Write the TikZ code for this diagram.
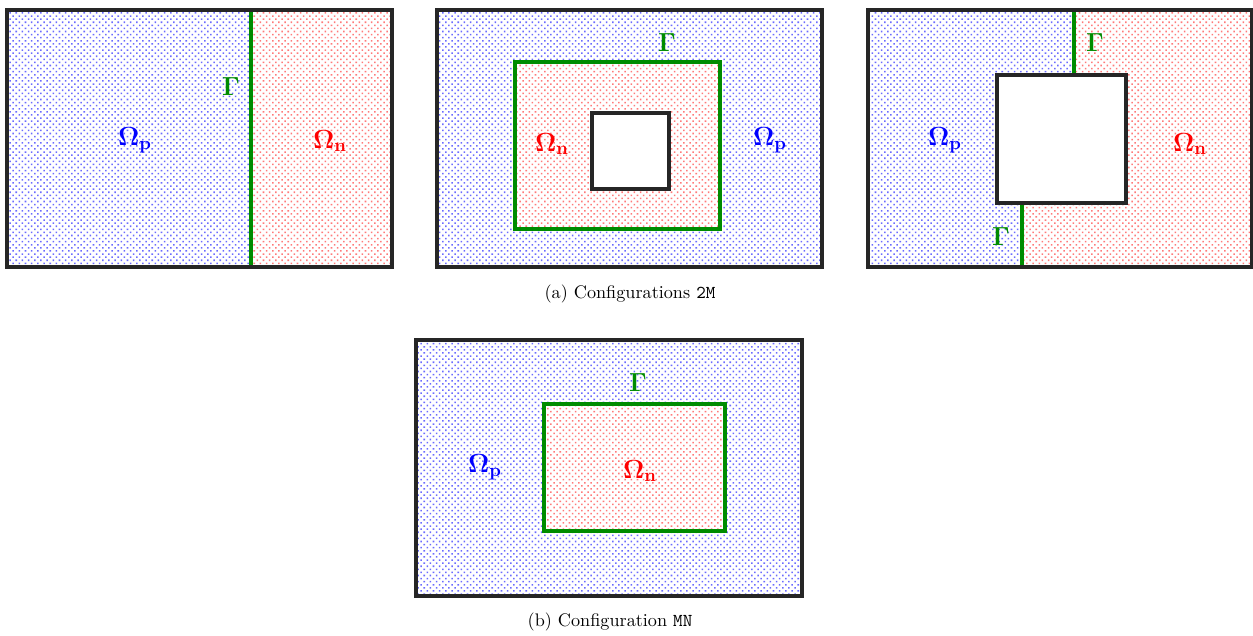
\documentclass[tikz,border=0pt]{standalone}
\usepackage{amsmath}
\usetikzlibrary{patterns}
% small dotted tile for the subdomains
\pgfdeclarepatternformonly{fine dots}{\pgfqpoint{-0.1pt}{-0.1pt}}{\pgfqpoint{3.5pt}{3.5pt}}{\pgfqpoint{3.4pt}{3.4pt}}{
  \pgfpathrectangle{\pgfqpoint{0pt}{0pt}}{\pgfqpoint{0.85pt}{0.85pt}}
  \pgfpathrectangle{\pgfqpoint{1.7pt}{1.7pt}}{\pgfqpoint{0.85pt}{0.85pt}}
  \pgfusepath{fill}}

\begin{document}
\begin{tikzpicture}[x=0.55pt,y=-0.55pt,
  wall/.style={draw=black!85,line width=1.8pt},
  iface/.style={draw=green!55!black,line width=1.8pt},
  pdom/.style={pattern=fine dots,pattern color=blue!58},
  ndom/.style={pattern=fine dots,pattern color=red!52},
  plab/.style={text=blue,font=\Large},
  nlab/.style={text=red,font=\Large},
  glab/.style={text=green!55!black,font=\Large}]
  \useasboundingbox (0,0) rectangle (1253,635);

  % (a) left: straight interface
  \fill[pdom] (7,10) rectangle (251,267);
  \fill[ndom] (251,10) rectangle (392,267);
  \coordinate (g1t) at (251,10);
  \coordinate (g1b) at (251,267);
  \draw[iface] (g1t) -- (g1b);
  \draw[wall] (7,10) rectangle (392,267);
  \node[glab] (gam1) at (231,87) {$\mathbf{\Gamma}$};
  \node[plab] (omp1) at (135,140) {$\mathbf{\Omega_p}$};
  \node[nlab] (omn1) at (330,141) {$\mathbf{\Omega_n}$};

  % (a) middle: ring around a hole
  \fill[pdom] (437,10) rectangle (822,267);
  \fill[white] (515,62) rectangle (720,229);
  \fill[ndom] (515,62) rectangle (720,229);
  \fill[white] (592,113) rectangle (669,189);
  \draw[iface] (515,62) rectangle (720,229);
  \draw[wall] (592,113) rectangle (669,189);
  \draw[wall] (437,10) rectangle (822,267);
  \node[glab] (gam2) at (667,43) {$\mathbf{\Gamma}$};
  \node[nlab] (omn2) at (552,144) {$\mathbf{\Omega_n}$};
  \node[plab] (omp2) at (770,140) {$\mathbf{\Omega_p}$};

  % (a) right: interface split by the hole
  \fill[ndom] (868,10) rectangle (1252,267);
  \fill[white] (868,10) -- (1074,10) -- (1074,75) -- (997,75) -- (997,203)
    -- (1022,203) -- (1022,267) -- (868,267) -- cycle;
  \fill[pdom] (868,10) -- (1074,10) -- (1074,75) -- (997,75) -- (997,203)
    -- (1022,203) -- (1022,267) -- (868,267) -- cycle;
  \fill[white] (997,75) rectangle (1126,203);
  \coordinate (g3t) at (1074,10);
  \coordinate (g3a) at (1074,75);
  \coordinate (g3b) at (1022,203);
  \coordinate (g3c) at (1022,267);
  \draw[iface] (g3t) -- (g3a);
  \draw[iface] (g3b) -- (g3c);
  \draw[wall] (997,75) rectangle (1126,203);
  \draw[wall] (868,10) rectangle (1252,267);
  \node[glab] (gam3) at (1095,43) {$\mathbf{\Gamma}$};
  \node[glab] (gam4) at (1001,237) {$\mathbf{\Gamma}$};
  \node[plab] (omp3) at (945,140) {$\mathbf{\Omega_p}$};
  \node[nlab] (omn3) at (1190,144) {$\mathbf{\Omega_n}$};

  \node (capa) at (630,294) {(a) Configurations \texttt{2M}};

  % (b) inclusion
  \fill[pdom] (416,340) rectangle (802,596);
  \fill[white] (544,404) rectangle (725,531);
  \fill[ndom] (544,404) rectangle (725,531);
  \draw[iface] (544,404) rectangle (725,531);
  \draw[wall] (416,340) rectangle (802,596);
  \node[glab] (gam5) at (638,383) {$\mathbf{\Gamma}$};
  \node[plab] (omp5) at (485,467) {$\mathbf{\Omega_p}$};
  \node[nlab] (omn5) at (640,471) {$\mathbf{\Omega_n}$};

  \node (capb) at (610,622) {(b) Configuration \texttt{MN}};
\end{tikzpicture}
\end{document}
